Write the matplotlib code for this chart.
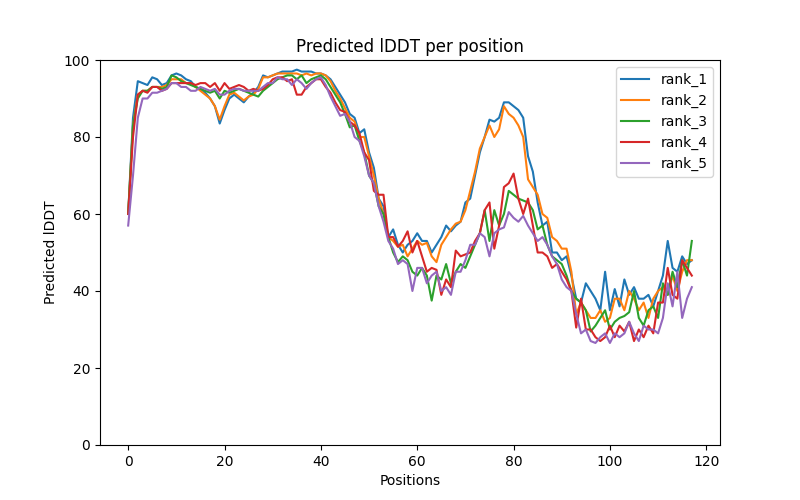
import matplotlib
matplotlib.use("Agg")
import matplotlib.pyplot as plt
import numpy as np

rank_1 = [60, 85, 94.5, 94, 93.5, 95.5, 95, 93.5, 94, 96, 96.5, 96, 95, 94.5, 93, 92.5, 91.5, 90, 88, 83.5,
          87, 90, 91, 90, 89, 90.5, 91.5, 93, 96, 95.5, 96, 96.5, 97, 97, 97, 97.5, 97, 97, 97, 96.5,
          96.5, 96, 95, 93, 91, 89, 86, 85, 81, 82, 76, 72, 64, 62, 54, 56, 52, 50, 52, 53,
          55, 53, 53, 50, 52, 54, 57, 55.5, 57, 58, 63, 64, 70, 76, 80, 84.5, 84, 85, 89, 89,
          88, 87, 85, 75, 71, 63, 57, 58, 50, 50, 48, 49, 44, 38, 37, 42, 40, 38, 35, 45,
          35, 40.5, 36, 43, 39, 41, 38, 38, 39, 36, 40, 44, 53, 46, 45, 49, 47, 48]
rank_2 = [60, 83, 91, 92, 92, 93, 93, 93, 93.5, 95, 95, 95, 94, 94, 93, 92, 91, 90, 88, 84.5,
          88, 91, 91.5, 90.5, 89.5, 90.5, 91, 92.5, 95.5, 95.5, 96, 96.5, 96.5, 96.5, 96.5, 96.5, 96, 96.5, 96, 96.5,
          96.5, 96, 94.5, 92, 90, 87.5, 85, 84, 80, 80, 75, 70, 64, 60, 54, 53, 51.5, 52, 49, 51,
          53, 52, 52.5, 49, 47.5, 52, 54, 56, 57.5, 58, 61, 66, 71, 77, 80, 83, 80, 82, 88, 86,
          85, 83, 80, 69, 67, 65, 60, 59, 54, 53, 51, 51, 45, 34, 37, 35, 33, 33, 35, 32,
          33, 38, 38, 35, 40, 38, 35, 37, 33, 38, 40, 41, 39, 44, 40, 45, 48, 48]
rank_3 = [60, 83, 90, 92, 92, 93, 93, 92.5, 93, 96, 95.5, 94.5, 94, 93.5, 93, 92.5, 92, 91.5, 92, 90,
          92, 91.5, 92, 92.5, 92, 91.5, 91, 90.5, 92, 93, 94, 95, 95.5, 96, 96, 95, 96, 94, 95, 95.5,
          96, 95, 93, 91, 89, 86, 82.5, 83, 79, 76, 70, 68, 62, 60, 54, 50, 47.5, 49, 48, 45,
          44, 46, 44, 37.5, 44, 43, 47, 42, 45, 47, 46, 49, 52, 55, 61, 53, 61, 57, 60, 66,
          65, 64, 63.5, 63, 61, 56, 57, 52, 49, 48, 47, 44, 40, 38, 37, 35, 29.5, 31, 33, 35,
          30, 32, 33, 33.5, 34.5, 40, 33, 31, 35, 36, 33, 42, 39, 45, 41, 48, 44, 53]
rank_4 = [60, 80, 91, 92, 91.5, 93, 93, 92, 92.5, 94, 94, 94, 94, 94, 93.5, 94, 94, 93, 94, 92,
          94, 92.5, 93, 93.5, 93, 92, 92.5, 92, 92.5, 93.5, 95, 95.5, 95.5, 94.5, 95, 91, 91, 93, 94, 95,
          95, 93, 91.5, 89, 87, 86.5, 84, 83, 81, 76, 74, 66, 65, 65, 54, 54, 51.5, 53, 55.5, 50,
          53, 49, 45, 46, 45.5, 39, 43, 41, 50.5, 49, 49.5, 50, 53, 55, 61, 63, 51, 57, 67, 68,
          70.5, 64, 60, 64, 57, 50, 50, 49, 46, 47, 45, 43, 40, 30.5, 38, 30, 30, 28, 27, 28,
          31, 28, 31, 29.5, 32, 27, 30, 28, 31, 29, 37, 37, 46, 39, 38, 48, 46, 44]
rank_5 = [57, 70, 85, 90, 90, 91.5, 91.5, 92, 92.5, 94, 94, 93, 93, 92, 92, 93, 92.5, 92, 92.5, 91,
          91, 92, 92.5, 92.5, 92, 92, 92, 92, 93, 94, 94, 95.5, 95, 95, 93.5, 95, 94, 92.5, 94, 95,
          95.5, 93.5, 90.5, 88, 85.5, 86, 84, 80, 79, 75, 70, 68, 62, 58, 53, 51, 47, 48, 47, 40,
          46, 46, 42, 44, 45, 40, 41, 39, 45, 45, 48, 52, 52, 55, 54, 49, 55, 56, 56.5, 60.5,
          59, 58, 59.5, 57, 55, 53, 54, 52, 49, 47, 43, 41, 40, 34, 29, 30, 27, 26.5, 28, 29,
          26.5, 29, 28, 29, 32, 29, 27, 31, 30, 30, 29, 33, 42, 36, 45, 33, 38, 41]

series = {"rank_1": rank_1, "rank_2": rank_2, "rank_3": rank_3, "rank_4": rank_4, "rank_5": rank_5}

fig, ax = plt.subplots(figsize=(8, 5), dpi=100)
for name, vals in series.items():
    ax.plot(np.arange(len(vals)), vals, label=name)
ax.set_ylim(0, 100)
ax.set_title("Predicted lDDT per position")
ax.set_xlabel("Positions")
ax.set_ylabel("Predicted lDDT")
ax.legend(loc="upper right")
fig.savefig("out.png")
